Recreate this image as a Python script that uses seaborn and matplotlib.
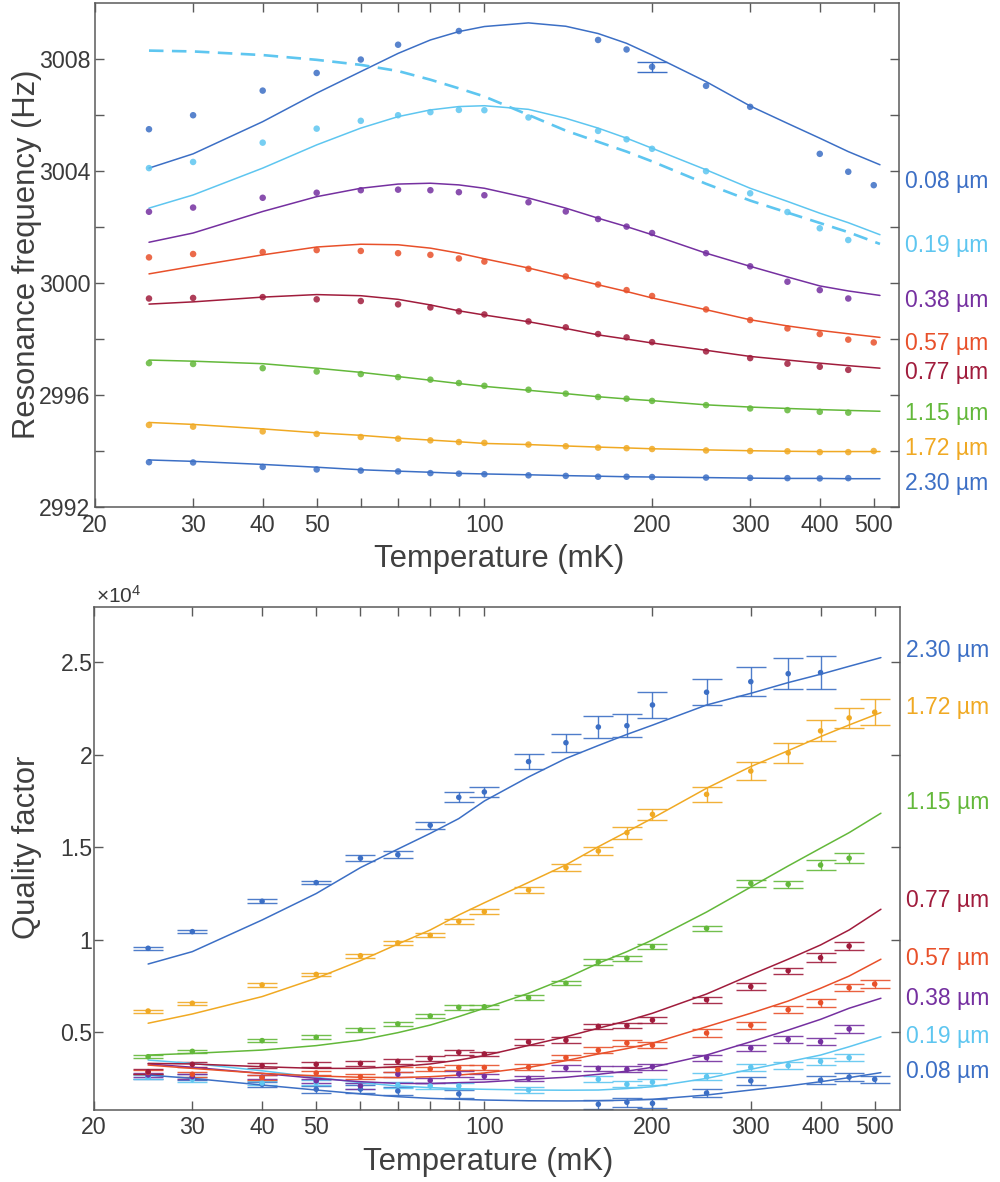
import numpy as np
import pandas as pd
import matplotlib
matplotlib.use("Agg")
import matplotlib.pyplot as plt
from matplotlib.ticker import FixedLocator, FixedFormatter, NullFormatter
import seaborn as sns

nan = np.nan

# ---------------------------------------------------------------- data
SERIES = ["0.08", "0.19", "0.38", "0.57", "0.77", "1.15", "1.72", "2.30"]

# measurement temperatures (mK) and temperatures at which the fits are sampled
TEMPS = [25, 30, 40, 50, 60, 70, 80, 90, 100, 120, 140, 160, 180, 200, 250, 300, 350, 400, 450, 500]
FIT_TEMPS = [25, 30, 40, 50, 60, 70, 80, 90, 100, 120, 140, 160, 180, 200, 250, 300, 350, 400, 450, 513]

# resonance frequency (Hz)
freq_008 = [3005.50, 3006.00, 3006.88, 3007.51, 3007.99, 3008.52, nan, 3009.01, nan, nan, nan, 3008.69, 3008.35, 3007.73, 3007.05, 3006.30, nan, 3004.62, 3003.98, 3003.50]
freq_019 = [3004.11, 3004.33, 3005.02, 3005.52, 3005.80, 3006.00, 3006.11, 3006.19, 3006.18, 3005.92, nan, 3005.44, 3005.14, 3004.80, 3004.00, 3003.21, 3002.54, 3001.96, 3001.54, nan]
freq_038 = [3002.55, 3002.70, 3003.05, 3003.23, 3003.32, 3003.34, 3003.32, 3003.25, 3003.14, 3002.89, 3002.56, 3002.29, 3002.02, 3001.79, 3001.07, 3000.60, 3000.05, 2999.75, 2999.45, nan]
freq_057 = [3000.92, 3001.04, 3001.11, 3001.18, 3001.15, 3001.07, 3001.01, 3000.88, 3000.77, 3000.51, 3000.24, 2999.95, 2999.75, 2999.54, 2999.06, 2998.68, 2998.38, 2998.18, 2997.98, 2997.88]
freq_077 = [2999.45, 2999.47, 2999.50, 2999.42, 2999.36, 2999.24, 2999.13, 2998.99, 2998.88, 2998.63, 2998.42, 2998.18, 2998.06, 2997.89, 2997.56, 2997.32, 2997.12, 2997.01, 2996.90, nan]
freq_115 = [2997.14, 2997.11, 2996.96, 2996.84, 2996.75, 2996.64, 2996.55, 2996.43, 2996.33, 2996.19, 2996.05, 2995.93, 2995.87, 2995.79, 2995.64, 2995.52, 2995.46, 2995.40, 2995.37, nan]
freq_172 = [2994.93, 2994.87, 2994.70, 2994.61, 2994.50, 2994.44, 2994.38, 2994.32, 2994.29, 2994.23, 2994.17, 2994.12, 2994.10, 2994.07, 2994.02, 2994.00, 2993.99, 2993.96, 2993.96, 2994.00]
freq_230 = [2993.60, 2993.59, 2993.43, 2993.34, 2993.30, 2993.27, 2993.21, 2993.19, 2993.17, 2993.13, 2993.11, 2993.08, 2993.08, 2993.07, 2993.05, 2993.04, 2993.03, 2993.02, 2993.03, nan]
freq_err_008 = [0, 0, 0, 0, 0, 0, 0, 0, 0, 0, 0, 0, 0, 0.17, 0, 0, 0, 0, 0, 0]

fit_freq_008 = [3004.11, 3004.62, 3005.77, 3006.79, 3007.56, 3008.21, 3008.69, 3008.99, 3009.17, 3009.30, 3009.18, 3008.92, 3008.57, 3008.15, 3007.20, 3006.33, 3005.71, 3005.18, 3004.70, 3004.23]
fit_freq_019 = [3002.68, 3003.15, 3004.11, 3004.94, 3005.54, 3005.95, 3006.19, 3006.31, 3006.34, 3006.21, 3005.89, 3005.54, 3005.18, 3004.82, 3004.05, 3003.39, 3002.92, 3002.50, 3002.16, 3001.73]
fit_freq_038 = [3001.46, 3001.79, 3002.56, 3003.09, 3003.39, 3003.54, 3003.57, 3003.51, 3003.39, 3003.04, 3002.68, 3002.32, 3002.02, 3001.73, 3001.07, 3000.60, 3000.22, 2999.90, 2999.72, 2999.56]
fit_freq_057 = [3000.33, 3000.60, 3001.01, 3001.29, 3001.39, 3001.37, 3001.25, 3001.07, 3000.87, 3000.54, 3000.22, 2999.94, 2999.70, 2999.47, 2999.05, 2998.69, 2998.47, 2998.31, 2998.19, 2998.06]
fit_freq_077 = [2999.25, 2999.33, 2999.50, 2999.59, 2999.55, 2999.42, 2999.22, 2999.01, 2998.86, 2998.62, 2998.38, 2998.15, 2998.00, 2997.86, 2997.60, 2997.38, 2997.25, 2997.14, 2997.05, 2996.96]
fit_freq_115 = [2997.25, 2997.21, 2997.12, 2996.96, 2996.81, 2996.66, 2996.53, 2996.41, 2996.31, 2996.17, 2996.05, 2995.94, 2995.86, 2995.80, 2995.65, 2995.57, 2995.52, 2995.48, 2995.45, 2995.42]
fit_freq_172 = [2995.02, 2994.95, 2994.79, 2994.65, 2994.56, 2994.46, 2994.39, 2994.33, 2994.27, 2994.23, 2994.18, 2994.14, 2994.11, 2994.08, 2994.04, 2994.01, 2993.99, 2993.98, 2993.98, 2993.98]
fit_freq_230 = [2993.68, 2993.63, 2993.52, 2993.42, 2993.33, 2993.28, 2993.24, 2993.20, 2993.18, 2993.15, 2993.12, 2993.10, 2993.08, 2993.07, 2993.05, 2993.03, 2993.02, 2993.02, 2993.01, 2993.01]
# bulk-TLS prediction (dashed)
fit_freq_bulk = [3008.31, 3008.28, 3008.15, 3007.98, 3007.80, 3007.58, 3007.27, 3006.96, 3006.67, 3006.01, 3005.45, 3005.05, 3004.70, 3004.35, 3003.55, 3002.95, 3002.52, 3002.15, 3001.82, 3001.40]

# quality factor
q_008 = [2600, 2570, 2190, 1920, 1930, 1830, nan, 1670, nan, nan, nan, 1110, 1220, 1160, 1720, 2380, nan, 2410, 2580, 2460]
q_019 = [2570, 2460, 2260, 2280, 2100, 2150, 2100, 2100, nan, 1880, nan, 2460, 2190, 2310, 2600, 3110, 3200, 3430, 3630, nan]
q_038 = [2690, 2600, 2570, 2380, 2100, 2730, 2400, 2750, 2620, 2510, 3070, 3050, 3000, 3140, 3630, 4150, 4620, 4490, 5180, nan]
q_057 = [2840, 2730, 2550, 2800, 2600, 2980, 3020, 3090, 3100, 3110, 3630, 4030, 4420, 4300, 4960, 5380, 6220, 6600, 7410, 7610]
q_077 = [2870, 3270, 3200, 3270, 3320, 3430, 3590, 3920, 3830, 4480, 4570, 5320, 5360, 5660, 6760, 7470, 8330, 9030, 9660, nan]
q_115 = [3680, 3970, 4550, 4730, 5120, 5450, 5880, 6350, 6380, 6870, 7650, 8800, 9000, 9630, 10620, 13050, 13000, 14040, 14410, nan]
q_172 = [6150, 6570, 7560, 8130, 9140, 9830, 10240, 11000, 11520, 12690, 13900, 14800, 15790, 16780, 17860, 19120, 20100, 21290, 21990, 22300]
q_230 = [9540, 10440, 12080, 13090, 14410, 14600, 16190, 17700, 17990, 19630, 20650, 21500, 21570, 22690, 23380, 23950, 24380, 24440, nan, nan]

q_err_008 = [150, 150, 150, 200, 200, 200, nan, 220, nan, nan, nan, 250, 250, 250, 220, 220, nan, 220, 220, 200]
q_err_019 = [120, 120, 120, 120, 150, 150, 150, 150, nan, 150, nan, 170, 170, 170, 200, 200, 200, 200, 200, nan]
q_err_038 = [120, 120, 120, 120, 150, 150, 150, 150, 150, 150, 150, 150, 170, 170, 170, 170, 200, 200, 200, nan]
q_err_057 = [120, 120, 120, 120, 120, 120, 120, 120, 120, 150, 150, 170, 170, 170, 200, 200, 200, 220, 200, 220]
q_err_077 = [120, 120, 120, 120, 120, 120, 120, 130, 120, 150, 150, 150, 150, 150, 170, 170, 170, 240, 200, nan]
q_err_115 = [80, 80, 100, 100, 100, 100, 100, 120, 120, 120, 120, 150, 150, 150, 150, 180, 200, 290, 270, nan]
q_err_172 = [80, 80, 100, 100, 100, 100, 100, 120, 120, 150, 200, 220, 320, 300, 400, 500, 530, 570, 530, 700]
q_err_230 = [80, 80, 100, 100, 150, 180, 200, 270, 290, 410, 480, 610, 610, 680, 710, 770, 830, 880, nan, nan]

fit_q_008 = [2690, 2510, 2150, 1880, 1670, 1520, 1430, 1380, 1340, 1300, 1290, 1300, 1330, 1380, 1610, 1880, 2100, 2330, 2550, 2820]
fit_q_019 = [3500, 3320, 2920, 2570, 2280, 2100, 2010, 1950, 1920, 1880, 1870, 1880, 1960, 2060, 2510, 3000, 3410, 3770, 4220, 4760]
fit_q_038 = [3290, 3110, 2780, 2510, 2330, 2240, 2230, 2280, 2310, 2460, 2570, 2730, 2900, 3110, 3770, 4490, 5120, 5700, 6300, 6840]
fit_q_057 = [3230, 3050, 2780, 2640, 2570, 2550, 2600, 2690, 2800, 3100, 3470, 3830, 4120, 4410, 5300, 6030, 6690, 7380, 8040, 8950]
fit_q_077 = [3320, 3290, 3140, 3050, 3050, 3140, 3290, 3500, 3740, 4290, 4760, 5220, 5620, 6030, 7070, 8100, 8950, 9720, 10530, 11650]
fit_q_115 = [3770, 3860, 4040, 4280, 4580, 4980, 5390, 5850, 6300, 7110, 7920, 8730, 9360, 9990, 11500, 12850, 13990, 14950, 15790, 16840]
fit_q_172 = [5490, 5990, 6930, 7920, 8870, 9770, 10530, 11340, 12000, 13100, 14050, 15030, 15840, 16570, 18190, 19360, 20220, 20980, 21610, 22280]
fit_q_230 = [8690, 9360, 11070, 12500, 13900, 14900, 15750, 16550, 17500, 18800, 19800, 20500, 21100, 21600, 22690, 23320, 23900, 24350, 24780, 25250]

FREQ = dict(zip(SERIES, [freq_008, freq_019, freq_038, freq_057, freq_077, freq_115, freq_172, freq_230]))
FIT_FREQ = dict(zip(SERIES, [fit_freq_008, fit_freq_019, fit_freq_038, fit_freq_057, fit_freq_077, fit_freq_115, fit_freq_172, fit_freq_230]))
Q = dict(zip(SERIES, [q_008, q_019, q_038, q_057, q_077, q_115, q_172, q_230]))
Q_ERR = dict(zip(SERIES, [q_err_008, q_err_019, q_err_038, q_err_057, q_err_077, q_err_115, q_err_172, q_err_230]))
FIT_Q = dict(zip(SERIES, [fit_q_008, fit_q_019, fit_q_038, fit_q_057, fit_q_077, fit_q_115, fit_q_172, fit_q_230]))
Q_SCALE = 1e4

X_TICKS = [20, 30, 40, 50, 100, 200, 300, 400, 500]
X_MINOR = [60, 70, 80, 90]

# ---------------------------------------------------------------- style
BLUE = "#3c6fc5"
PALETTE = {
    "0.08": BLUE,
    "0.19": "#5ec6f0",
    "0.38": "#7530a0",
    "0.57": "#e8502a",
    "0.77": "#a01c3c",
    "1.15": "#63b83a",
    "1.72": "#f0a923",
    "2.30": BLUE,
}
SPINE = "#5a5a5a"
TEXT = "#3a3a3a"

# vertical position (axes fraction) of the width labels at the right
LABEL_Y_TOP = {"0.08": 0.647, "0.19": 0.520, "0.38": 0.409, "0.57": 0.324,
               "0.77": 0.266, "1.15": 0.185, "1.72": 0.117, "2.30": 0.046}
LABEL_Y_BOTTOM = {"2.30": 0.913, "1.72": 0.799, "1.15": 0.611, "0.77": 0.417,
                  "0.57": 0.302, "0.38": 0.221, "0.19": 0.146, "0.08": 0.077}

sns.set_theme(style="ticks")
plt.rcParams["font.family"] = ["Liberation Sans", "DejaVu Sans"]
plt.rcParams["mathtext.default"] = "regular"
plt.rcParams["axes.unicode_minus"] = False


def long_form(values, temps, errs=None):
    rows = []
    for w in SERIES:
        for i, (t, v) in enumerate(zip(temps, values[w])):
            e = errs[w][i] if errs is not None else 0.0
            rows.append((w, t, v, e))
    df = pd.DataFrame(rows, columns=["width", "T", "value", "err"])
    return df.dropna(subset=["value"])


def style_axis(ax, ypad):
    ax.set_xscale("log")
    ax.set_xlim(20, 555)
    ax.xaxis.set_major_locator(FixedLocator(X_TICKS))
    ax.xaxis.set_major_formatter(FixedFormatter([str(t) for t in X_TICKS]))
    ax.xaxis.set_minor_locator(FixedLocator(X_MINOR))
    ax.xaxis.set_minor_formatter(NullFormatter())
    ax.tick_params(which="both", direction="in", top=True, right=True,
                   length=6.5, width=1.0, color=SPINE)
    ax.tick_params(axis="both", which="major", labelsize=16.7, labelcolor=TEXT)
    ax.tick_params(axis="x", which="major", pad=5)
    ax.tick_params(axis="y", which="major", pad=ypad)
    for s in ax.spines.values():
        s.set_color(SPINE)
        s.set_linewidth(1.1)
    ax.set_xlabel("")
    ax.set_ylabel("")


fig = plt.figure(figsize=(10, 11.82), dpi=100)
ax1 = fig.add_axes([0.095, 0.5711, 0.804, 0.4261])
ax2 = fig.add_axes([0.094, 0.0609, 0.806, 0.4258])

# ---------------------------------------------------------------- frequency panel
ax1.set_xscale("log")
fits_top = long_form(FIT_FREQ, FIT_TEMPS)
dots_top = long_form(FREQ, TEMPS)

sns.lineplot(data=fits_top, x="T", y="value", hue="width", hue_order=SERIES,
             palette=PALETTE, estimator=None, sort=False, legend=False,
             linewidth=1.1, ax=ax1)
sns.lineplot(x=FIT_TEMPS, y=fit_freq_bulk, color=PALETTE["0.19"], linewidth=1.9,
             linestyle=(0, (5.5, 3.2)), estimator=None, sort=False, ax=ax1)
sns.scatterplot(data=dots_top, x="T", y="value", hue="width", hue_order=SERIES,
                palette=PALETTE, s=22, linewidth=0, alpha=0.85, legend=False,
                ax=ax1, zorder=3)

err_idx = [i for i, e in enumerate(freq_err_008) if e > 0]
ax1.errorbar([TEMPS[i] for i in err_idx], [freq_008[i] for i in err_idx],
             yerr=[freq_err_008[i] for i in err_idx], fmt="none",
             ecolor=PALETTE["0.08"], elinewidth=1.0, capsize=10.8, capthick=1.0)

style_axis(ax1, ypad=3.5)
ax1.set_ylim(2992, 3010)
ax1.yaxis.set_major_locator(FixedLocator([2992, 2996, 3000, 3004, 3008]))
ax1.yaxis.set_minor_locator(FixedLocator([2994, 2998, 3002, 3006]))
ax1.yaxis.set_minor_formatter(NullFormatter())

for w in SERIES:
    ax1.text(1.0075, LABEL_Y_TOP[w], f"{w} µm", transform=ax1.transAxes,
             color=PALETTE[w], fontsize=16.5, ha="left", va="center", clip_on=False)

# ---------------------------------------------------------------- quality-factor panel
ax2.set_xscale("log")
fits_bot = long_form(FIT_Q, FIT_TEMPS)
dots_bot = long_form(Q, TEMPS, Q_ERR)
fits_bot["value"] = fits_bot["value"] / Q_SCALE
dots_bot["value"] = dots_bot["value"] / Q_SCALE
dots_bot["err"] = dots_bot["err"] / Q_SCALE

for w in SERIES:
    sub = dots_bot[dots_bot["width"] == w]
    ax2.errorbar(sub["T"], sub["value"], yerr=sub["err"], fmt="none",
                 ecolor=PALETTE[w], elinewidth=1.0, capsize=10.8, capthick=1.0,
                 alpha=0.9, zorder=2)
sns.lineplot(data=fits_bot, x="T", y="value", hue="width", hue_order=SERIES,
             palette=PALETTE, estimator=None, sort=False, legend=False,
             linewidth=1.1, ax=ax2)
sns.scatterplot(data=dots_bot, x="T", y="value", hue="width", hue_order=SERIES,
                palette=PALETTE, s=16, linewidth=0, legend=False, ax=ax2, zorder=3)

style_axis(ax2, ypad=1.0)
ax2.tick_params(axis="x", which="major", pad=4)
ax2.set_ylim(0.08, 2.80)
ax2.yaxis.set_major_locator(FixedLocator([0.5, 1.0, 1.5, 2.0, 2.5]))
ax2.yaxis.set_major_formatter(FixedFormatter(["0.5", "1", "1.5", "2", "2.5"]))
ax2.yaxis.set_minor_locator(FixedLocator([]))

for w in SERIES:
    ax2.text(1.0075, LABEL_Y_BOTTOM[w], f"{w} µm", transform=ax2.transAxes,
             color=PALETTE[w], fontsize=16.5, ha="left", va="center", clip_on=False)

fig.text(0.096, 0.4901, r"×10$^{4}$", fontsize=15, color=TEXT, ha="left", va="baseline")

# ---------------------------------------------------------------- axis titles
LABEL_KW = dict(fontsize=22.3, color="#404040")
fig.text(0.499, 0.5206, "Temperature (mK)", ha="center", va="baseline", **LABEL_KW)
fig.text(0.488, 0.0102, "Temperature (mK)", ha="center", va="baseline", **LABEL_KW)
fig.text(0.035, 0.7851, "Resonance frequency (Hz)", rotation=90, rotation_mode="anchor",
         ha="center", va="baseline", **LABEL_KW)
fig.text(0.035, 1 - 847.5 / 1182, "Quality factor", rotation=90, rotation_mode="anchor",
         ha="center", va="baseline", **LABEL_KW)

fig.savefig("out.png", dpi=100)
